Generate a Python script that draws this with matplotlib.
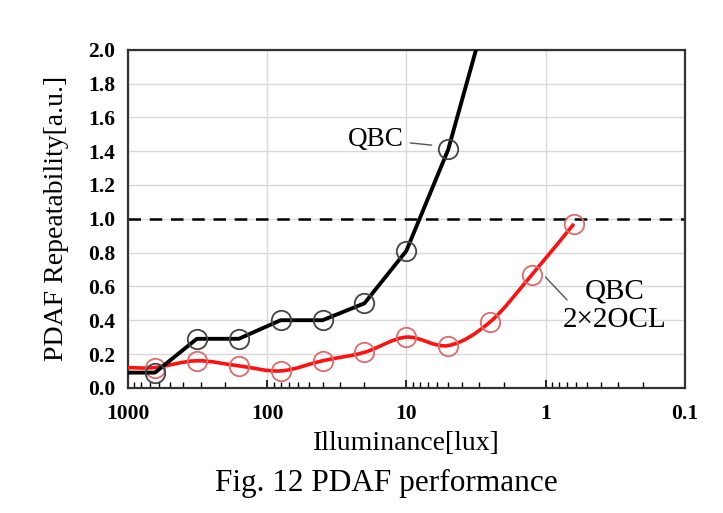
import numpy as np
import matplotlib.pyplot as plt
from matplotlib.path import Path
from matplotlib.patches import PathPatch

# Illuminance steps (lux); the first entry is the line's left stub, no marker
lux = [1000, 640, 320, 160, 80, 40, 20, 10, 5, 2.5, 1.25, 0.625]
qbc = [0.09, 0.09, 0.29, 0.29, 0.40, 0.40, 0.50, 0.81, 1.41, 2.30]
qbc_ocl = [0.12, 0.12, 0.16, 0.13, 0.10, 0.16, 0.21, 0.30, 0.25, 0.39, 0.67, 0.97]

yticks = [0.0, 0.2, 0.4, 0.6, 0.8, 1.0, 1.2, 1.4, 1.6, 1.8, 2.0]
xticks = [1000, 100, 10, 1, 0.1]
xticklabels = ['1000', '100', '10', '1', '0.1']

plt.rcParams['font.family'] = ['Liberation Serif', 'DejaVu Serif']


def smooth_path(xs, ys):
    # Catmull-Rom style bezier through the points, built in log-x space
    lx = np.log10(xs)
    ys = np.asarray(ys, float)
    n = len(lx)
    verts = [(xs[0], ys[0])]
    codes = [Path.MOVETO]
    for i in range(n - 1):
        x0, y0 = (lx[i - 1], ys[i - 1]) if i > 0 else (lx[i], ys[i])
        x1, y1 = lx[i], ys[i]
        x2, y2 = lx[i + 1], ys[i + 1]
        x3, y3 = (lx[i + 2], ys[i + 2]) if i + 2 < n else (x2, y2)
        c1 = (x1 + (x2 - x0) / 6, y1 + (y2 - y0) / 6)
        c2 = (x2 - (x3 - x1) / 6, y2 - (y3 - y1) / 6)
        for cx, cy in (c1, c2, (x2, y2)):
            verts.append((10 ** cx, cy))
            codes.append(Path.CURVE4)
    return Path(verts, codes)


fig = plt.figure(figsize=(7.23, 5.13), dpi=100)
ax = fig.add_axes([0.177, 0.244, 0.770, 0.659])

ax.set_xscale('log')
ax.set_xlim(1000, 0.1)
ax.set_ylim(0, 2.0)

ax.grid(True, which='major', color='#d9d9d9', linewidth=1.0)
ax.set_axisbelow(True)

ax.axhline(1.0, color='black', linewidth=1.8, linestyle=(0, (5, 3.5)), zorder=2)

# QBC 2x2OCL: smoothed red line
ax.add_patch(PathPatch(smooth_path(lux, qbc_ocl), facecolor='none',
                       edgecolor='#ff1010', linewidth=2.6, zorder=3, clip_on=True))
ax.plot(lux[1:], qbc_ocl[1:], linestyle='none', marker='o', markersize=14,
        markerfacecolor='none', markeredgecolor='#e06a6a', markeredgewidth=1.3,
        zorder=4)

# QBC: straight black segments
ax.plot(lux[:len(qbc)], qbc, color='black', linewidth=2.8, zorder=5)
ax.plot(lux[1:len(qbc) - 1], qbc[1:-1], linestyle='none', marker='o', markersize=14,
        markerfacecolor='none', markeredgecolor='#444444', markeredgewidth=1.3,
        zorder=6)

ax.set_yticks(yticks)
ax.set_yticklabels([f'{v:.1f}' for v in yticks], fontweight='bold', fontsize=15.5)
ax.set_xticks(xticks)
ax.set_xticklabels(xticklabels, fontweight='bold', fontsize=15.5)
ax.tick_params(axis='y', length=0, pad=9)
ax.tick_params(axis='x', which='major', direction='in', length=6, width=1.2, pad=12)
ax.tick_params(axis='x', which='minor', direction='in', length=4, width=1.0)

for s in ax.spines.values():
    s.set_color('#333333')
    s.set_linewidth(1.6)

ax.set_ylabel('PDAF Repeatability[a.u.]', fontsize=20, labelpad=14)
ax.set_xlabel('Illuminance[lux]', fontsize=20, labelpad=5)

ax.annotate('QBC', xy=(5.6, 1.43), xytext=(16.7, 1.47), fontsize=19.5,
            ha='center', va='center',
            arrowprops=dict(arrowstyle='-', color='#555555', lw=1.0,
                            shrinkA=3, shrinkB=7))
ax.text(0.32, 0.485, 'QBC\n2×2OCL', fontsize=21, ha='center', va='center',
        linespacing=1.15)
# leader line from the 1.25 lux marker down to the label
ax.annotate('', xy=(0.70, 0.52), xytext=(1.0, 0.655),
            arrowprops=dict(arrowstyle='-', color='#555555', lw=1.0,
                            shrinkA=0, shrinkB=0))

fig.text(0.535, 0.058, 'Fig. 12 PDAF performance', fontsize=22.5, ha='center', va='center')

fig.savefig('out.png', dpi=100)
